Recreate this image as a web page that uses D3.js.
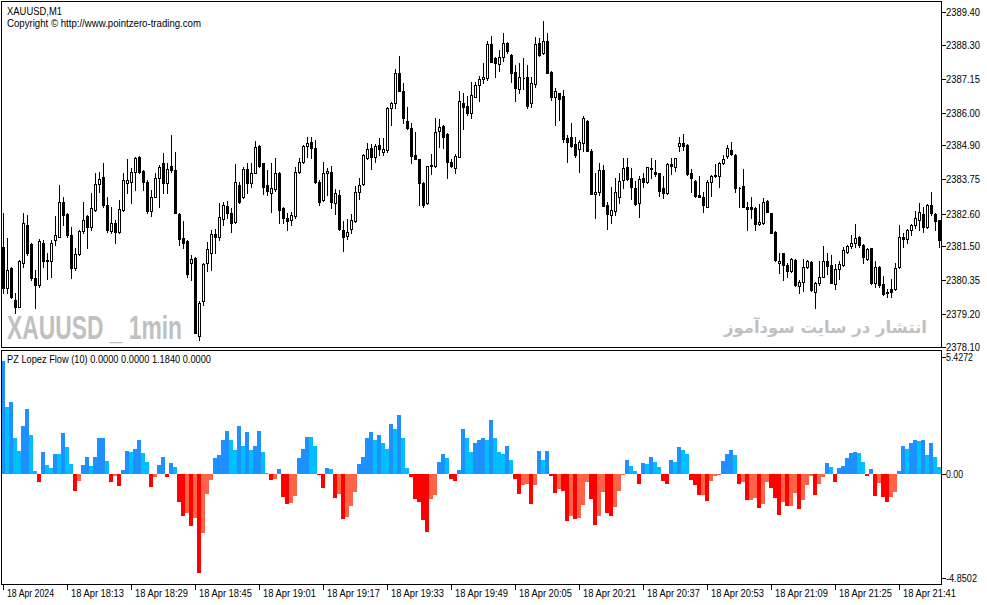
<!DOCTYPE html>
<html lang="en">
<head>
<meta charset="UTF-8">
<title>XAUUSD,M1 - PZ Lopez Flow</title>
<script src="https://d3js.org/d3.v7.min.js"></script>
<style>
  body { margin: 0; background: #fff; }
  svg { display: block; }
  text { font-family: "Liberation Sans", Arial, sans-serif; fill: #000; }
</style>
</head>
<body>
<div id="chart"></div>
<script>
// one-minute bars
const opens = [
  2381.48,2380.08,2380.75,2379.68,2379.43,2380.92,2382.21,2381.57,2380.41,2380.19,
  2381.59,2381.00,2380.98,2381.71,2381.82,2383.00,2382.57,2381.88,2380.75,2381.23,
  2382.02,2382.50,2382.16,2382.72,2383.60,2383.82,2382.89,2382.01,2382.27,2381.97,
  2382.72,2383.64,2383.68,2384.01,2384.52,2384.05,2383.68,2382.70,2383.17,2383.79,
  2384.30,2383.62,2384.21,2384.07,2382.59,2381.76,2381.68,2380.92,2381.09,2378.47,
  2379.66,2380.92,2381.26,2381.91,2381.80,2382.42,2382.86,2382.61,2382.33,2383.56,
  2383.15,2384.09,2383.62,2383.98,2384.88,2384.30,2383.56,2383.28,2383.42,2383.98,
  2382.78,2382.44,2382.38,2382.52,2384.01,2384.35,2384.88,2385.03,2384.80,2383.68,
  2383.06,2383.96,2384.01,2382.97,2383.22,2382.04,2381.85,2382.07,2382.36,2383.31,
  2383.60,2384.46,2384.80,2384.52,2384.91,2384.69,2384.75,2386.15,2386.32,2387.33,
  2386.74,2385.74,2385.48,2384.58,2384.43,2383.64,2382.95,2384.22,2384.21,2385.40,
  2385.56,2385.29,2384.33,2384.13,2384.52,2386.34,2386.23,2385.98,2386.55,2386.94,
  2387.15,2387.17,2388.32,2387.84,2387.64,2387.87,2388.35,2387.95,2387.37,2386.79,
  2387.17,2387.20,2386.32,2386.97,2388.35,2388.01,2388.43,2387.39,2386.55,2386.66,
  2386.57,2385.16,2385.20,2384.95,2384.78,2384.97,2385.72,2384.72,2383.25,2383.34,
  2384.07,2382.89,2382.55,2382.70,2383.15,2383.73,2384.18,2383.79,2383.45,2382.95,
  2383.79,2383.68,2384.15,2384.01,2383.96,2383.45,2383.28,2384.27,2384.18,2384.89,
  2384.97,2384.91,2383.96,2383.70,2383.22,2383.15,2382.83,2383.68,2383.85,2383.87,
  2384.30,2384.55,2384.75,2384.58,2383.45,2383.53,2382.81,2382.81,2382.78,2382.24,
  2382.27,2383.02,2382.61,2381.99,2380.92,2381.26,2380.86,2380.67,2381.03,2380.15,
  2380.30,2380.81,2380.95,2379.96,2380.24,2380.47,2380.98,2380.86,2380.22,2380.72,
  2380.86,2381.31,2381.52,2381.62,2381.82,2381.54,2381.07,2381.43,2380.24,2380.81,
  2380.22,2379.91,2380.04,2380.04,2380.78,2381.82,2381.73,2382.04,2382.21,2382.38,
  2382.57,2382.13,2382.89,2382.59,2382.38
];
const highs = [
  2382.61,2381.76,2380.81,2379.91,2381.03,2382.61,2382.55,2381.59,2380.69,2381.73,
  2381.71,2381.26,2381.71,2382.50,2383.56,2383.17,2382.61,2382.16,2381.43,2382.04,
  2383.00,2382.55,2383.28,2383.98,2384.01,2384.30,2383.17,2382.83,2382.38,2383.06,
  2383.96,2384.43,2384.13,2384.52,2384.54,2384.07,2383.73,2383.40,2383.96,2384.24,
  2384.63,2384.30,2385.25,2384.69,2382.61,2382.35,2381.71,2381.20,2381.12,2379.63,
  2380.92,2381.65,2382.04,2382.07,2382.95,2383.00,2383.02,2382.78,2384.26,2383.68,
  2384.18,2384.30,2384.30,2385.06,2384.90,2384.32,2384.07,2384.32,2384.46,2384.01,
  2382.81,2382.61,2382.64,2384.18,2384.46,2384.91,2385.20,2385.20,2385.08,2383.73,
  2384.35,2384.13,2384.21,2383.42,2383.40,2382.35,2382.40,2382.57,2383.53,2383.79,
  2384.61,2384.97,2384.94,2384.94,2385.16,2385.16,2386.21,2386.38,2387.47,2387.92,
  2386.99,2386.21,2385.65,2385.36,2384.45,2383.68,2384.22,2384.60,2385.82,2385.79,
  2385.58,2385.31,2384.43,2384.61,2386.72,2386.66,2386.57,2387.05,2387.05,2387.24,
  2387.69,2388.44,2388.59,2387.90,2388.12,2388.68,2388.40,2387.98,2387.62,2387.69,
  2387.84,2387.62,2387.20,2388.57,2388.52,2389.11,2388.68,2387.41,2386.83,2386.68,
  2386.77,2385.25,2385.67,2385.20,2385.08,2385.89,2385.76,2384.78,2383.98,2384.30,
  2384.24,2383.00,2383.49,2383.79,2383.96,2384.46,2384.46,2384.13,2383.70,2383.85,
  2383.96,2384.18,2384.49,2384.41,2383.98,2383.85,2384.32,2384.46,2384.46,2385.17,
  2385.29,2384.94,2384.09,2383.73,2383.87,2383.34,2383.73,2383.90,2384.27,2384.33,
  2384.58,2384.91,2385.00,2384.60,2383.51,2384.10,2383.00,2383.17,2382.81,2382.92,
  2383.11,2383.06,2382.63,2382.01,2381.26,2381.28,2380.92,2381.09,2381.05,2380.36,
  2381.05,2381.03,2380.98,2380.30,2380.98,2381.52,2381.26,2381.20,2380.89,2380.98,
  2381.46,2381.54,2381.88,2382.25,2381.84,2381.56,2381.43,2381.45,2380.98,2380.83,
  2380.49,2380.04,2380.38,2380.92,2382.21,2381.93,2382.07,2382.25,2382.70,2382.95,
  2382.83,2382.92,2383.31,2382.61,2382.38
];
const lows = [
  2379.91,2379.91,2379.74,2379.25,2379.43,2380.81,2381.20,2380.36,2379.40,2380.13,
  2380.81,2380.38,2380.47,2381.54,2381.80,2382.21,2381.82,2380.41,2380.69,2381.20,
  2381.93,2381.43,2382.04,2382.70,2383.34,2382.83,2381.99,2381.93,2381.59,2381.93,
  2382.70,2383.28,2382.97,2383.40,2383.96,2383.40,2382.63,2382.50,2383.15,2382.83,
  2383.28,2383.28,2384.01,2382.61,2381.54,2381.43,2380.47,2380.36,2378.56,2378.33,
  2379.51,2380.67,2380.69,2381.26,2381.71,2382.21,2382.44,2381.97,2382.29,2382.95,
  2383.11,2383.28,2383.51,2383.96,2384.18,2383.26,2383.22,2382.66,2383.37,2382.27,
  2382.29,2382.04,2382.21,2382.44,2383.98,2384.30,2384.52,2384.46,2383.64,2382.89,
  2383.03,2383.22,2382.78,2382.57,2382.04,2381.35,2381.73,2381.93,2382.33,2383.10,
  2383.56,2384.43,2384.09,2384.33,2384.58,2384.58,2384.69,2385.59,2386.15,2386.72,
  2385.65,2385.44,2384.30,2384.43,2382.89,2382.81,2382.92,2383.94,2384.18,2384.86,
  2384.80,2383.79,2384.18,2383.98,2384.50,2385.44,2385.93,2385.82,2386.52,2386.41,
  2386.99,2387.11,2387.72,2387.20,2387.42,2387.76,2388.01,2387.05,2386.41,2386.68,
  2386.79,2386.15,2386.21,2386.86,2387.92,2387.98,2387.36,2386.43,2385.59,2385.76,
  2385.03,2384.33,2384.86,2384.50,2384.01,2384.72,2384.72,2383.25,2382.44,2383.22,
  2382.87,2382.07,2382.27,2382.55,2382.95,2383.45,2383.73,2383.08,2382.89,2382.47,
  2383.51,2383.64,2383.79,2383.85,2383.19,2383.11,2383.26,2383.94,2384.05,2384.72,
  2384.75,2383.90,2383.31,2383.17,2383.15,2382.66,2382.83,2383.19,2383.82,2383.51,
  2384.27,2384.46,2384.58,2383.34,2382.83,2382.81,2382.04,2382.44,2382.04,2382.21,
  2382.25,2382.64,2381.93,2381.01,2380.58,2380.36,2380.47,2380.64,2380.15,2379.91,
  2379.99,2380.75,2379.99,2379.40,2380.19,2380.45,2380.56,2380.24,2380.04,2380.38,
  2380.83,2381.28,2381.43,2381.48,2381.46,2380.92,2381.03,2380.22,2380.13,2380.11,
  2379.85,2379.79,2379.79,2380.02,2380.75,2381.48,2381.59,2381.88,2382.10,2382.04,
  2381.99,2382.10,2382.55,2382.04,2381.48
];
const closes = [
  2380.08,2380.69,2379.79,2379.43,2380.98,2382.27,2381.26,2380.41,2380.19,2381.68,
  2380.98,2381.03,2381.62,2381.88,2383.00,2382.55,2381.88,2380.75,2381.23,2382.01,
  2382.38,2382.16,2382.78,2383.60,2383.76,2382.89,2382.04,2382.29,2381.97,2382.74,
  2383.73,2383.73,2384.01,2384.46,2384.01,2383.68,2382.70,2383.15,2383.79,2384.18,
  2383.62,2384.09,2384.07,2382.61,2381.73,2381.62,2380.56,2381.05,2378.56,2379.57,
  2380.90,2381.39,2381.91,2381.80,2382.47,2382.89,2382.61,2382.27,2383.65,2383.00,
  2384.09,2383.62,2383.98,2384.86,2384.21,2383.51,2383.37,2383.45,2383.96,2382.72,
  2382.44,2382.36,2382.55,2384.01,2384.35,2384.88,2384.99,2384.80,2383.68,2383.00,
  2383.96,2384.04,2383.00,2383.28,2382.07,2381.82,2381.97,2382.38,2383.32,2383.56,
  2384.58,2384.77,2384.50,2384.88,2384.78,2384.78,2386.15,2386.32,2387.33,2386.75,
  2385.82,2385.48,2384.55,2384.45,2383.62,2382.89,2384.21,2384.24,2385.36,2385.51,
  2385.20,2384.35,2384.22,2384.54,2386.40,2386.21,2386.01,2386.60,2386.94,2387.13,
  2387.20,2388.32,2387.73,2387.69,2387.87,2388.35,2388.07,2387.33,2386.83,2387.20,
  2387.18,2386.23,2386.99,2388.32,2387.95,2388.44,2387.36,2386.55,2386.74,2386.46,
  2385.11,2385.03,2384.89,2384.58,2385.03,2385.84,2384.72,2383.25,2383.33,2384.07,
  2382.87,2382.59,2382.72,2383.31,2383.70,2384.13,2383.76,2383.49,2382.92,2383.77,
  2383.68,2384.16,2384.09,2383.94,2383.37,2383.28,2384.27,2384.21,2384.46,2384.97,
  2384.89,2383.94,2383.79,2383.19,2383.15,2382.89,2383.65,2383.87,2383.90,2384.30,
  2384.43,2384.80,2384.61,2383.45,2383.45,2382.83,2382.74,2382.74,2382.24,2382.33,
  2383.00,2382.66,2381.93,2381.03,2381.01,2380.86,2380.67,2381.07,2380.19,2380.30,
  2380.81,2380.98,2380.02,2380.24,2380.47,2380.98,2380.83,2380.27,2380.72,2380.89,
  2381.37,2381.52,2381.62,2381.76,2381.54,2381.12,2381.40,2380.24,2380.78,2380.19,
  2379.88,2379.96,2379.96,2380.77,2381.80,2381.73,2382.04,2382.21,2382.44,2382.66,
  2382.13,2382.89,2382.61,2382.36,2381.71
];
// PZ Lopez Flow (10) histogram
const flow = [
  5.22,3.09,3.32,1.64,1.05,2.24,3.03,1.78,0.11,-0.39,
  0.99,0.39,0.26,0.93,0.90,1.87,1.22,0.43,-0.80,-0.34,
  0.39,0.80,0.34,0.80,1.64,1.68,0.57,-0.39,-0.11,-0.57,
  0.15,1.04,0.99,1.17,1.55,0.94,0.53,-0.62,-0.17,0.39,
  0.76,-0.15,0.48,0.31,-1.31,-1.96,-1.82,-2.43,-2.07,-4.61,
  -2.74,-0.96,-0.28,0.73,0.85,1.56,1.98,1.56,1.10,2.24,
  1.31,1.92,1.10,1.27,1.98,0.99,0.03,-0.28,-0.25,0.20,
  -1.07,-1.41,-1.36,-1.04,0.73,1.17,1.73,1.72,1.27,-0.03,
  -0.66,0.25,0.20,-1.13,-0.96,-2.10,-2.01,-1.50,-0.85,0.43,
  0.80,1.64,1.92,1.55,1.78,1.41,1.17,2.33,2.10,2.75,
  1.68,0.25,-0.17,-1.17,-1.31,-2.15,-2.70,-1.17,-0.99,0.53,
  0.90,0.71,-0.25,-0.34,0.15,2.06,1.64,0.99,1.45,1.59,
  1.68,1.55,2.52,1.64,0.99,0.90,1.27,0.62,-0.25,-0.94,
  -0.53,-0.48,-1.41,-0.53,1.04,0.62,1.04,-0.11,-0.90,-0.71,
  -0.80,-2.19,-1.96,-2.10,-2.06,-1.45,-0.39,-1.17,-2.38,-1.96,
  -0.85,-1.82,-1.96,-1.55,-0.80,-0.06,0.62,0.34,0.11,-0.48,
  0.48,0.43,0.80,0.53,0.29,-0.34,-0.48,0.66,0.53,1.22,
  1.08,0.90,-0.29,-0.53,-0.99,-0.98,-1.27,-0.34,-0.11,-0.06,
  0.57,0.90,1.08,0.85,-0.48,-0.39,-1.22,-1.21,-1.13,-1.59,
  -1.41,-0.39,-0.66,-1.13,-1.92,-1.31,-1.50,-1.49,-0.90,-1.64,
  -1.22,-0.53,-0.11,-0.99,-0.48,-0.15,0.48,0.29,-0.39,0.25,
  0.34,0.71,0.94,0.99,0.98,0.53,-0.11,0.20,-1.04,-0.43,
  -1.08,-1.31,-1.07,-0.85,0.11,1.31,1.17,1.45,1.55,1.50,
  1.56,0.85,1.41,0.76,0.29
];

const priceTicks = [2389.40, 2388.30, 2387.15, 2386.00, 2384.90, 2383.75, 2382.60, 2381.50, 2380.35, 2379.20, 2378.10];
const flowTicks = [5.4272, 0, -4.8502];
const flowTickLabels = ["5.4272", "0.00", "-4.8502"];
const timeTicks = ["17:57", "18:13", "18:29", "18:45", "19:01", "19:17", "19:33", "19:49",
                   "20:05", "20:21", "20:37", "20:53", "21:09", "21:25", "21:41"];
const timeTickLabels = ["18 Apr 2024", "18 Apr 18:13", "18 Apr 18:29", "18 Apr 18:45", "18 Apr 19:01",
                        "18 Apr 19:17", "18 Apr 19:33", "18 Apr 19:49", "18 Apr 20:05", "18 Apr 20:21",
                        "18 Apr 20:37", "18 Apr 20:53", "18 Apr 21:09", "18 Apr 21:25", "18 Apr 21:41"];
const firstBar = new Date(2024, 3, 18, 17, 57);

const width = 987, height = 605;
const left = 1.5, right = 941.5;
const mainTop = 1.5, mainBottom = 347.5;
const subTop = 350.5, subBottom = 584.5;

const fmt = d3.timeFormat("%H:%M");
const times = closes.map((_, i) => fmt(d3.timeMinute.offset(firstBar, i)));
const bars = times.map((t, i) => ({ t, o: opens[i], h: highs[i], l: lows[i], c: closes[i], f: flow[i], pf: flow[i - 1] }));

const svg = d3.select("#chart").append("svg")
    .attr("width", width)
    .attr("height", height);

const x = d3.scaleBand().domain(times).range([1, 941]).padding(0);
const y = d3.scaleLinear().domain([2378.10, 2389.40]).range([346.8, 12.1]);
const yf = d3.scaleLinear().domain([-4.8502, 5.4272]).range([578, 357]);

svg.append("defs").call(d => {
  d.append("clipPath").attr("id", "clipMain").append("rect")
    .attr("x", 2).attr("y", 2).attr("width", 939).attr("height", 345);
  d.append("clipPath").attr("id", "clipSub").append("rect")
    .attr("x", 2).attr("y", 351).attr("width", 939).attr("height", 233);
});

// watermarks
svg.append("text")
    .attr("x", 7).attr("y", 339)
    .attr("textLength", 175).attr("lengthAdjust", "spacingAndGlyphs")
    .style("font-family", "'Liberation Sans Narrow', 'Liberation Sans', Arial, sans-serif")
    .style("font-weight", "bold").style("font-size", "33px")
    .style("fill", "#c0c0c0")
    .text("XAUUSD _ 1min");

svg.append("text")
    .attr("x", 927).attr("y", 333)
    .attr("direction", "rtl")
    .attr("text-anchor", "start")
    .style("font-family", "'DejaVu Sans', sans-serif")
    .style("font-weight", "bold").style("font-size", "16.5px")
    .style("fill", "#c0c0c0")
    .text("انتشار در سایت سودآموز");

// candles
const cg = svg.append("g").attr("clip-path", "url(#clipMain)");
const cx = d => x(d.t) + 2.5;
const py = v => Math.round(y(v)) + 0.5;

cg.selectAll("line.wick")
  .data(bars)
  .join("line")
    .attr("class", "wick")
    .attr("x1", cx).attr("x2", cx)
    .attr("y1", d => Math.round(y(d.h)))
    .attr("y2", d => Math.round(y(d.l)) + 1)
    .attr("stroke", "#000")
    .attr("stroke-width", 1)
    .attr("shape-rendering", "crispEdges");

cg.selectAll("path.body")
  .data(bars)
  .join("path")
    .attr("class", "body")
    .attr("d", d => {
      const x0 = cx(d) - 1, x1 = cx(d) + 1;
      const y0 = py(Math.max(d.o, d.c)), y1 = py(Math.min(d.o, d.c));
      return `M${x0},${y0}H${x1}V${y1}H${x0}Z`;
    })
    .attr("fill", d => d.c < d.o ? "#000" : "#fff")
    .attr("stroke", "#000")
    .attr("stroke-width", 1)
    .attr("shape-rendering", "crispEdges");

// flow histogram
function flowColor(v, prev) {
  if (v >= 0) return (prev === undefined || v >= prev) ? "#1e90ff" : "#00bfff";
  return (prev === undefined || v <= prev) ? "#ff0000" : "#ff6347";
}
const zero = Math.round(yf(0));
svg.append("g").attr("clip-path", "url(#clipSub)")
  .selectAll("rect")
  .data(bars)
  .join("rect")
    .attr("x", d => x(d.t))
    .attr("width", x.bandwidth())
    .attr("y", d => d.f >= 0 ? Math.round(yf(d.f)) : zero)
    .attr("height", d => Math.max(1, Math.abs(Math.round(yf(d.f)) - zero)))
    .attr("fill", d => flowColor(d.f, d.pf))
    .attr("shape-rendering", "crispEdges");

// frames
[[mainTop, mainBottom], [subTop, subBottom]].forEach(([t, b]) => {
  svg.append("rect")
    .attr("x", left).attr("y", t)
    .attr("width", right - left).attr("height", b - t)
    .attr("fill", "none").attr("stroke", "#000")
    .attr("shape-rendering", "crispEdges");
});

// price scale
const pAxis = svg.append("g");
pAxis.selectAll("line")
  .data(priceTicks)
  .join("line")
    .attr("x1", right).attr("x2", right + 4)
    .attr("y1", d => py(d)).attr("y2", d => py(d))
    .attr("stroke", "#000").attr("shape-rendering", "crispEdges");
pAxis.selectAll("text")
  .data(priceTicks)
  .join("text")
    .attr("x", 946).attr("y", d => y(d) + 4)
    .attr("textLength", 34).attr("lengthAdjust", "spacingAndGlyphs")
    .style("font-size", "10.5px")
    .text(d => d.toFixed(2));

// flow scale
const fAxis = svg.append("g");
fAxis.selectAll("line")
  .data(flowTicks)
  .join("line")
    .attr("x1", right).attr("x2", right + 4)
    .attr("y1", d => Math.round(yf(d)) + 0.5).attr("y2", d => Math.round(yf(d)) + 0.5)
    .attr("stroke", "#000").attr("shape-rendering", "crispEdges");
fAxis.selectAll("text")
  .data(flowTicks)
  .join("text")
    .attr("x", 946).attr("y", d => yf(d) + 4)
    .attr("textLength", (d, i) => [27, 17, 31][i]).attr("lengthAdjust", "spacingAndGlyphs")
    .style("font-size", "10.5px")
    .text((d, i) => flowTickLabels[i]);

// time scale
const tAxis = svg.append("g");
tAxis.selectAll("line")
  .data(timeTicks)
  .join("line")
    .attr("x1", d => x(d) + 2.5).attr("x2", d => x(d) + 2.5)
    .attr("y1", subBottom).attr("y2", subBottom + 5)
    .attr("stroke", "#000").attr("shape-rendering", "crispEdges");
tAxis.selectAll("text")
  .data(timeTicks)
  .join("text")
    .attr("x", d => x(d) + 6)
    .attr("y", 597)
    .attr("textLength", (d, i) => i === 0 ? 47 : 53).attr("lengthAdjust", "spacingAndGlyphs")
    .style("font-size", "10.5px")
    .text((d, i) => timeTickLabels[i]);

// captions
svg.append("text").attr("x", 7).attr("y", 15)
    .attr("textLength", 55).attr("lengthAdjust", "spacingAndGlyphs")
    .style("font-size", "10.5px").text("XAUUSD,M1");
svg.append("text").attr("x", 7).attr("y", 27)
    .attr("textLength", 194).attr("lengthAdjust", "spacingAndGlyphs")
    .style("font-size", "10.5px").text("Copyright © http://www.pointzero-trading.com");
svg.append("text").attr("x", 7).attr("y", 363)
    .attr("textLength", 204).attr("lengthAdjust", "spacingAndGlyphs")
    .style("font-size", "10.5px").text("PZ Lopez Flow (10) 0.0000 0.0000 1.1840 0.0000");
</script>
</body>
</html>
